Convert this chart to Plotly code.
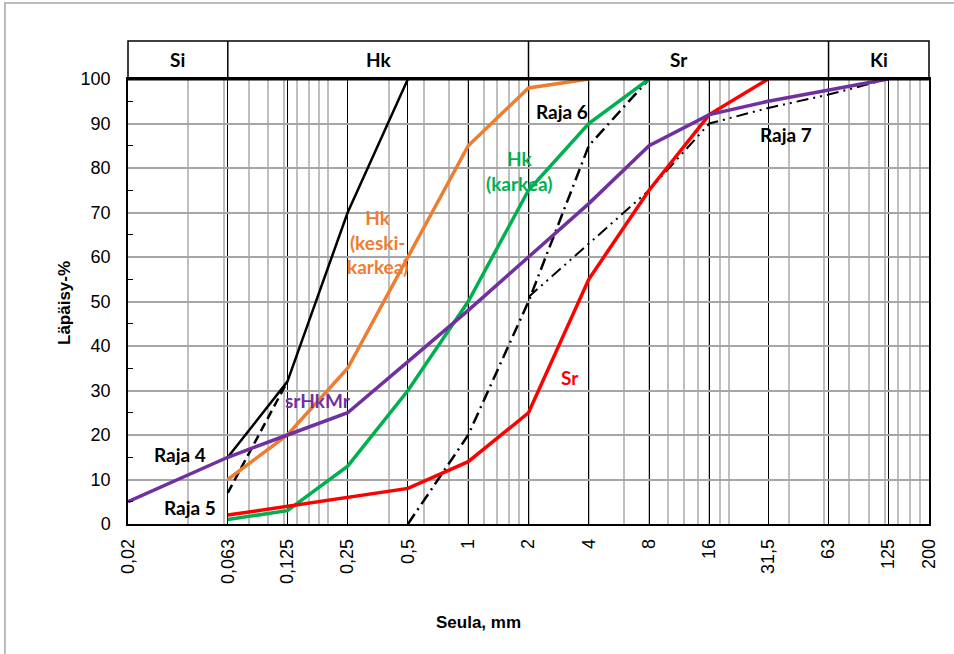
import math
import plotly.graph_objects as go

# ---------------- data ----------------
sieves = [0.063, 0.125, 0.25, 0.5, 1, 2, 4, 8, 16, 31.5, 63, 125]
tick_vals = [0.02] + sieves + [200]
tick_text = ["0,02", "0,063", "0,125", "0,25", "0,5", "1", "2", "4", "8",
             "16", "31,5", "63", "125", "200"]

raja4_x = [0.063, 0.125, 0.25, 0.5]
raja4_y = [15, 32, 70, 100]
raja5_x = [0.063, 0.125]
raja5_y = [7, 32]
raja6_x = [0.5, 1, 2, 4, 8]
raja6_y = [0, 20, 50, 85, 100]
raja7_x = [2, 4, 8, 16, 31.5, 63, 125]
raja7_y = [51, 63, 75, 90, 93.5, 96.5, 100]

hk_keski_x = [0.063, 0.125, 0.25, 0.5, 1, 2, 4]
hk_keski_y = [10, 20, 35, 60, 85, 98, 100]
hk_karkea_x = [0.063, 0.125, 0.25, 0.5, 1, 2, 4, 8]
hk_karkea_y = [1, 3, 13, 30, 50, 75, 90, 100]
sr_x = [0.063, 0.125, 0.25, 0.5, 1, 2, 4, 8, 16, 31.5]
sr_y = [2, 4, 6, 8, 14, 25, 55, 75, 92, 100]
srhkmr_x = [0.02, 0.063, 0.125, 0.25, 0.5, 1, 2, 4, 8, 16, 31.5, 63, 125]
srhkmr_y = [5, 15, 20, 25, 36.5, 48, 60, 72, 85, 92, 95, 97.5, 100]

fraction_names = ["Si", "Hk", "Sr", "Ki"]
fraction_bounds = [0.02, 0.063, 2, 63, 200]

# minor grid (Excel-style log minor gridlines from axis minimum 0.02)
minor_vals = []
for dec in [0.02, 0.2, 2, 20]:
    for k in range(1, 10):
        minor_vals.append(round(dec * k, 6))
minor_vals.append(200)

XMIN, XMAX = 0.02, 200

fig = go.Figure()

LABEL_FONT = "Lato, Calibri, Noto Sans, sans-serif"
AX_FONT = "Liberation Sans, Arial"
TITLE_FONT = "Liberation Sans Narrow, Liberation Sans, Arial"

def add_line(x, y, color, width, dash="solid", name=""):
    fig.add_trace(go.Scatter(x=x, y=y, mode="lines", name=name,
                             line=dict(color=color, width=width, dash=dash),
                             hoverinfo="x+y", showlegend=False))

add_line(raja4_x, raja4_y, "black", 2.5, "solid", "Raja 4")
add_line(raja5_x, raja5_y, "black", 2.5, "9px,5px", "Raja 5")
add_line(raja6_x, raja6_y, "black", 2.5, "12px,5px,2px,5px", "Raja 6")
add_line(raja7_x, raja7_y, "black", 2.0, "12px,5px,2px,5px,2px,5px", "Raja 7")
add_line(hk_keski_x, hk_keski_y, "#ED7D31", 3.5, "solid", "Hk (keskikarkea)")
add_line(hk_karkea_x, hk_karkea_y, "#00B050", 3.5, "solid", "Hk (karkea)")
add_line(sr_x, sr_y, "#FF0000", 3.5, "solid", "Sr")
add_line(srhkmr_x, srhkmr_y, "#7030A0", 3.5, "solid", "srHkMr")

shapes = []
# outer chart-area frame
shapes.append(dict(type="rect", xref="paper", yref="paper",
                   x0=-0.1536, x1=1.2, y0=-0.5, y1=1.1708,
                   line=dict(color="#A6A6A6", width=1.5), layer="below"))
# top fraction box
box_top = 1 + (79 - 41) / 445
shapes.append(dict(type="rect", xref="paper", yref="paper",
                   x0=0, x1=1, y0=1, y1=box_top,
                   line=dict(color="black", width=1.5)))
for b in fraction_bounds[1:-1]:
    shapes.append(dict(type="line", xref="x", yref="paper",
                       x0=b, x1=b, y0=1, y1=box_top,
                       line=dict(color="black", width=1.5)))
# thick top border of the plot
shapes.append(dict(type="line", xref="paper", yref="paper", x0=0, x1=1, y0=1, y1=1,
                   line=dict(color="black", width=3)))
fig.update_layout(shapes=shapes)

annotations = []
for i, nm in enumerate(fraction_names):
    c = (math.log10(fraction_bounds[i]) + math.log10(fraction_bounds[i + 1])) / 2
    annotations.append(dict(x=c, y=(1 + box_top) / 2, xref="x", yref="paper",
                            xanchor="center", yanchor="middle",
                            text="<b>%s</b>" % nm, showarrow=False,
                            font=dict(family=LABEL_FONT, size=19, color="black")))

def lab(text, xv, yv, color, align="center"):
    annotations.append(dict(x=math.log10(xv), y=yv, xref="x", yref="y",
                            xanchor="center", yanchor="middle",
                            text="<b>%s</b>" % text, showarrow=False, align=align,
                            font=dict(family=LABEL_FONT, size=19, color=color)))

lab("Raja 4", 0.0364, 15.6, "black")
lab("Raja 5", 0.041, 3.6, "black")
lab("srHkMr", 0.178, 27.8, "#7030A0")
lab("Hk<br>(keski-<br>karkea)", 0.354, 63.3, "#ED7D31")
lab("Hk<br>(karkea)", 1.79, 79.3, "#00B050")
lab("Raja 6", 2.94, 92.6, "black")
lab("Raja 7", 38.6, 87.6, "black")
lab("Sr", 3.22, 33, "#FF0000")

annotations.append(dict(x=(478 - 128) / 801, y=(524 - 622) / 445, xref="paper", yref="paper",
                        xanchor="center", yanchor="middle",
                        text="<b>Seula, mm</b>", showarrow=False,
                        font=dict(family=TITLE_FONT, size=17, color="black")))
annotations.append(dict(x=(64 - 128) / 801, y=(524 - 303) / 445, xref="paper", yref="paper",
                        xanchor="center", yanchor="middle",
                        text="<b>Läpäisy-%</b>", showarrow=False, textangle=-90,
                        font=dict(family=TITLE_FONT, size=17, color="black")))
fig.update_layout(annotations=annotations)

fig.update_xaxes(type="log", range=[math.log10(XMIN), math.log10(XMAX)],
                 tickmode="array", tickvals=tick_vals, ticktext=tick_text,
                 tickangle=-90, ticks="", showgrid=True, gridcolor="black", gridwidth=1.2,
                 minor=dict(tickmode="array", tickvals=minor_vals, showgrid=True,
                            gridcolor="#BFBFBF", gridwidth=1.5, ticks=""),
                 showline=True, linecolor="black", linewidth=1.5, mirror=True,
                 tickfont=dict(family=AX_FONT, size=18, color="black"),
                 ticklabelstandoff=6, zeroline=False, layer="below traces")
fig.update_yaxes(range=[0, 100], tickmode="linear", tick0=0, dtick=10,
                 showgrid=True, gridcolor="#A6A6A6", gridwidth=1.5,
                 ticks="", minor=dict(dtick=5, ticks="inside", ticklen=5, tickcolor="black"),
                 showline=True, linecolor="black", linewidth=1.5, mirror=True,
                 tickfont=dict(family=AX_FONT, size=18, color="black"),
                 ticklabelstandoff=12, zeroline=False)

fig.update_layout(width=954, height=654,
                  margin=dict(l=128, r=25, t=79, b=130),
                  paper_bgcolor="white", plot_bgcolor="white",
                  showlegend=False)

fig.write_html("out.html", config={"displayModeBar": False},
               post_script="document.body.style.margin='0';document.body.style.padding='0';")
